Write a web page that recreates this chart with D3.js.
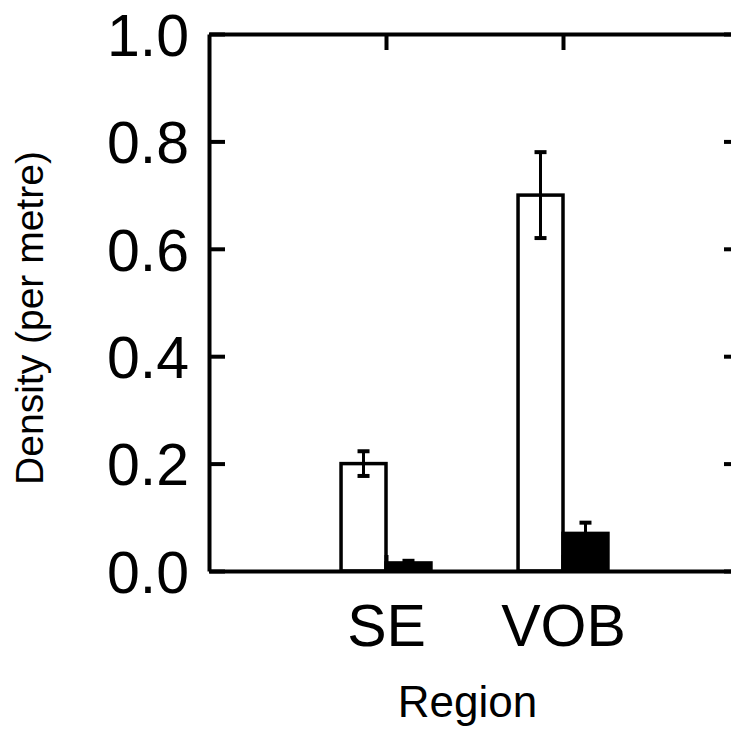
<!DOCTYPE html>
<html>
<head>
<meta charset="utf-8">
<script src="https://cdn.jsdelivr.net/npm/d3@7"></script>
<style>
  body { margin: 0; background: #fff; }
  svg { display: block; font-family: "Liberation Sans", Arial, sans-serif; }
</style>
</head>
<body>
<div id="chart"></div>
<script>
// podaci
const regije = ["SE", "VOB"];
const regijaPozicija = [1, 2];
const bijeliStupci = [0.20, 0.70];
const bijeliGreska = [0.023, 0.08];
const crniStupci = [0.015, 0.07];
const crniGreska = [0.004, 0.02];
const yTicks = [0, 0.2, 0.4, 0.6, 0.8, 1.0];

const dim = {
  width: 731, height: 729,
  margin: { top: 34, right: -9, bottom: 158, left: 209 }
};
dim.boundsWidth = dim.width - dim.margin.left - dim.margin.right;
dim.boundsHeight = dim.height - dim.margin.top - dim.margin.bottom;

const svg = d3.select("#chart").append("svg")
  .attr("width", dim.width)
  .attr("height", dim.height);

const g = svg.append("g")
  .attr("transform", `translate(${dim.margin.left},${dim.margin.top})`);

const x = d3.scaleLinear().domain([0, 3]).range([0, dim.boundsWidth]);
const y = d3.scaleLinear().domain([0, 1]).range([dim.boundsHeight, 0]);
const barW = x(0.254) - x(0);

const data = regije.map((r, i) => ({
  regija: r, pos: regijaPozicija[i],
  b: bijeliStupci[i], c: crniStupci[i]
}));

// stupci
g.selectAll(".bijeli").data(data).join("rect")
  .attr("x", d => x(d.pos) - barW)
  .attr("y", d => y(d.b))
  .attr("width", barW)
  .attr("height", d => y(0) - y(d.b))
  .attr("fill", "#fff").attr("stroke", "#000").attr("stroke-width", 3.5);

g.selectAll(".crni").data(data).join("rect")
  .attr("x", d => x(d.pos))
  .attr("y", d => y(d.c))
  .attr("width", barW)
  .attr("height", d => y(0) - y(d.c))
  .attr("fill", "#000").attr("stroke", "#000").attr("stroke-width", 3.5);

// error bars
function greske(vals, errs, offset) {
  const eg = g.append("g").attr("stroke", "#000");
  data.forEach((d, i) => {
    const cx = x(d.pos) + offset;
    const top = y(vals[i] + errs[i]), bot = y(vals[i] - errs[i]);
    eg.append("line").attr("x1", cx).attr("x2", cx).attr("y1", top).attr("y2", bot)
      .attr("stroke-width", 3);
    [top, bot].forEach(yy => eg.append("line")
      .attr("x1", cx - 6).attr("x2", cx + 6).attr("y1", yy).attr("y2", yy)
      .attr("stroke-width", 4));
  });
}
greske(bijeliStupci, bijeliGreska, -barW / 2);
greske(crniStupci, crniGreska, barW / 2);

// osi
const tickLen = 16;
const yLijevo = g.append("g")
  .call(d3.axisLeft(y).tickValues(yTicks).tickSizeInner(-tickLen).tickSizeOuter(0)
    .tickPadding(20).tickFormat(d3.format(".1f")));
const yDesno = g.append("g")
  .attr("transform", `translate(${dim.boundsWidth},0)`)
  .call(d3.axisRight(y).tickValues(yTicks).tickSizeInner(-tickLen).tickSizeOuter(0)
    .tickFormat(""));
const xDolje = g.append("g")
  .attr("transform", `translate(0,${dim.boundsHeight})`)
  .call(d3.axisBottom(x).tickValues(regijaPozicija).tickSizeInner(-tickLen).tickSizeOuter(0)
    .tickPadding(33).tickFormat((d, i) => regije[i]));
const xGore = g.append("g")
  .call(d3.axisTop(x).tickValues(regijaPozicija).tickSizeInner(-tickLen).tickSizeOuter(0)
    .tickFormat(""));

[yLijevo, yDesno, xDolje, xGore].forEach(a => {
  a.selectAll("path, line").attr("stroke", "#000").attr("stroke-width", 4);
  a.selectAll("text").attr("fill", "#000")
    .style("font-family", "'Liberation Sans', Arial, sans-serif");
});
yLijevo.selectAll("text").style("font-size", "59px").attr("dy", "0.36em");
xDolje.selectAll("text").style("font-size", "59px");

// oznake osi
g.append("text")
  .attr("text-anchor", "middle")
  .attr("x", x(1.5) - 7)
  .attr("y", dim.boundsHeight + 146)
  .style("font-size", "44px")
  .text("Region");

svg.append("text")
  .attr("text-anchor", "middle")
  .attr("transform", `translate(43,318) rotate(-90)`)
  .style("font-size", "39px")
  .text("Density (per metre)");
</script>
</body>
</html>
